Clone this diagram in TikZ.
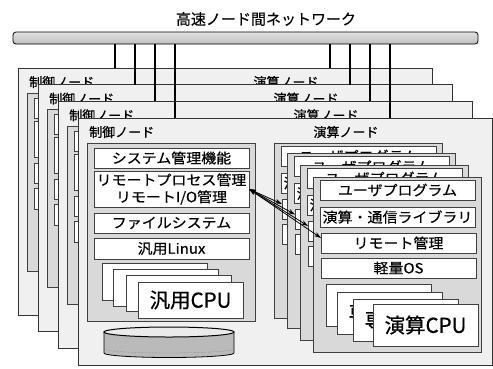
\documentclass[tikz,border=0pt]{standalone}
\usepackage{fontspec}
\setmainfont{Noto Sans CJK JP}[FakeBold=0.5]
\newfontfamily\bxf{Noto Sans CJK JP}[FakeBold=0.5, FakeStretch=1.07]
\usetikzlibrary{arrows.meta,calc}
\tikzset{
 frm/.style={draw=black!80, fill=black!6, line width=1pt, minimum width=414pt, minimum height=247pt, anchor=north west, inner sep=0pt, outer sep=0pt},
 pnl/.style={draw=black!75, fill=black!15, line width=0.9pt, anchor=north west, inner sep=0pt, outer sep=0pt},
 wbox/.style={draw=black!75, fill=white, line width=0.9pt, anchor=north west, inner sep=0pt, outer sep=0pt, minimum width=155pt, minimum height=20pt, font={\bxf\fontsize{14}{17}\selectfont}, align=center},
 cpub/.style={draw=black!75, fill=white, line width=0.9pt, anchor=north west, inner sep=0pt, outer sep=0pt, minimum width=105pt, font={\fontsize{20.5}{22}\selectfont}},
 lbl/.style={inner sep=0pt, font={\fontsize{13}{15}\selectfont}},
 conn/.style={line width=1.3pt, black},
 arr/.style={{Stealth[length=7pt,width=4.5pt]}-{Stealth[length=7pt,width=4.5pt]}, line width=0.8pt, black}
}
\newcommand\cpanel[3]{%
 \node[pnl, minimum width=168pt, minimum height=175pt] (cp#1) at (#2,#3) {};
 \node[wbox] (up#1) at (#2+7,#3+3) {ユーザプログラム};
 \node[wbox] (lib#1) at (#2+7,#3+30) {演算・通信ライブラリ};
 \node[wbox] (rm#1) at (#2+8,#3+56) {リモート管理};
 \node[wbox] (os#1) at (#2+8,#3+81) {軽量OS};
 \node[cpub, minimum height=42pt] (pa#1) at (#2+13,#3+107) {専用CPU};
 \node[cpub, minimum height=42pt] (pb#1) at (#2+24,#3+115) {専用CPU};
 \node[cpub, minimum height=42pt] (pc#1) at (#2+40,#3+122) {専用CPU};
 \node[cpub, minimum height=42pt] (pd#1) at (#2+60,#3+127) {演算CPU};
}
\newcommand\nframe[3]{%
 \node[frm] (f#1) at (#2,#3) {};
 \coordinate (ta#1) at (#2+97,#3);
 \coordinate (tb#1) at (#2+312,#3);
 \node[lbl, anchor=west] (cl#1) at (#2+11,#3+14) {制御ノード};
 \node[lbl] (el#1) at (#2+268,#3+14) {演算ノード};
 \node[pnl, minimum width=168pt, minimum height=178pt] (ctl#1) at (#2+9,#3+25) {};
 \node[wbox] (sys#1) at (#2+16,#3+30) {システム管理機能};
 \node[wbox, minimum height=36pt] (rp#1) at (#2+16,#3+53) {リモートプロセス管理\\リモートI/O管理};
 \node[wbox] (fsy#1) at (#2+16,#3+95) {ファイルシステム};
 \node[wbox, minimum height=21pt] (lnx#1) at (#2+16,#3+120) {汎用Linux};
 \node[cpub, minimum height=37pt] (ga#1) at (#2+24,#3+145) {};
 \node[cpub, minimum height=37pt] (gb#1) at (#2+35,#3+151) {};
 \node[cpub, minimum height=36pt] (gc#1) at (#2+48,#3+157) {};
 \node[cpub, minimum height=36pt] (gd#1) at (#2+60,#3+164) {汎用CPU};
 \draw[line width=0.8pt, fill=black!27] (#2+26,#3+214) -- (#2+26,#3+235) arc[start angle=180,end angle=0,x radius=65,y radius=4.5] -- (#2+156,#3+214) -- cycle;
 \draw[densely dotted, black!55] (#2+27,#3+231) arc[start angle=180,end angle=0,x radius=64,y radius=4];
 \draw[line width=1pt, fill=black!8] (#2+91,#3+214) ellipse[x radius=65, y radius=5];
 \cpanel{#1a}{#2+196}{#3+25}
 \cpanel{#1b}{#2+209}{#3+35.5}
 \cpanel{#1c}{#2+222}{#3+47}
 \cpanel{#1d}{#2+235}{#3+59}
}
\begin{document}
\begin{tikzpicture}[x=1pt,y=-1pt]
\useasboundingbox (0,0) rectangle (493,368);
\node[font={\fontsize{15}{17}\selectfont}, inner sep=0pt] (title) at (266,19) {高速ノード間ネットワーク};
\node[draw, line width=0.8pt, rounded corners=3pt, minimum width=465pt, minimum height=12pt, inner sep=0pt, top color=black!12, middle color=black!68, bottom color=black!25] (bar) at (245.5,38) {};
\nframe{0}{18}{68}
\nframe{1}{38}{84.7}
\nframe{2}{58}{101.3}
\nframe{3}{78}{118}
\foreach \k in {0,...,3}{
 \draw[conn] (ta\k |- bar.south) -- (ta\k);
 \draw[conn] (tb\k |- bar.south) -- (tb\k);
}
\foreach \p in {a,b,c,d}
 \draw[arr] (rp3.east) -- ($(rm3\p.north west)!0.25!(rm3\p.south west)$);
\end{tikzpicture}
\end{document}
